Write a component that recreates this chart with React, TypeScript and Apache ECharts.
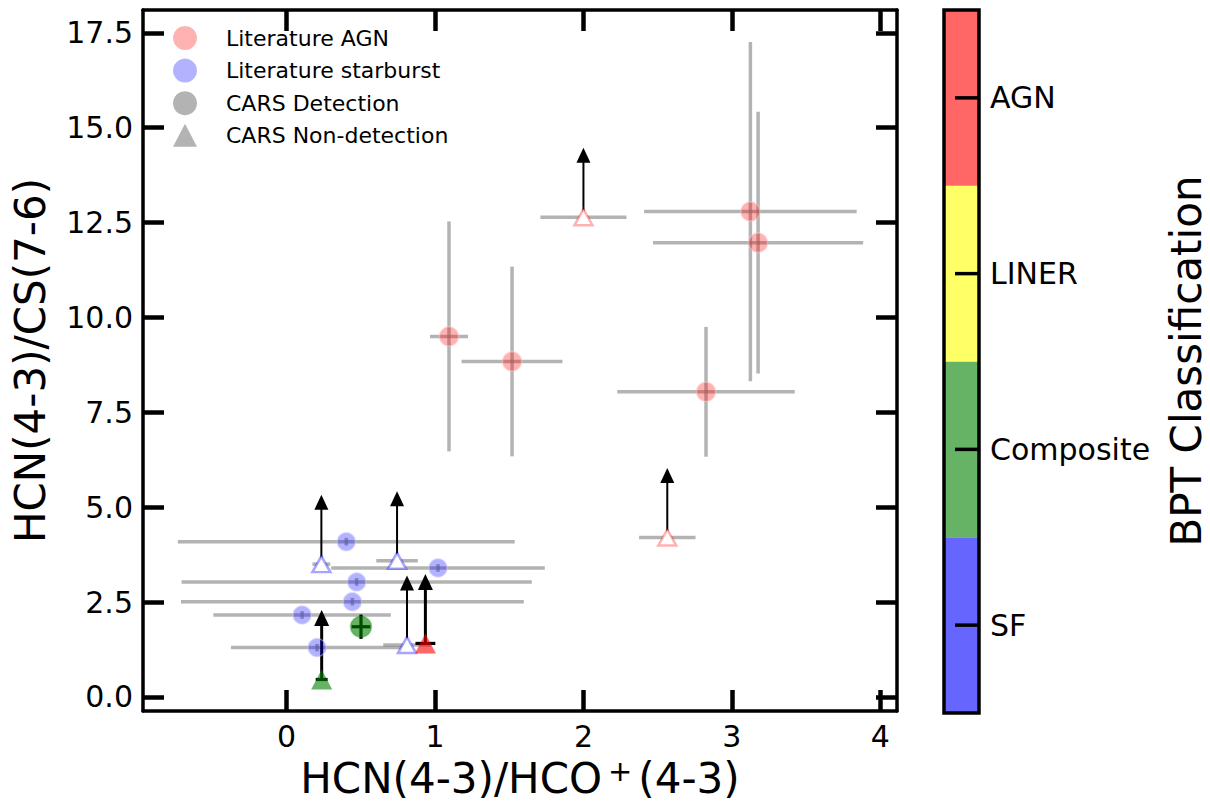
import React, { useEffect, useRef } from "react";
import * as echarts from "echarts";

// ---------- data ----------
// [x, y, xerr, yerr]
const LIT_AGN_DET = [
  [1.094, 9.5, 0.128, 3.03],
  [1.519, 8.84, 0.34, 2.5],
  [3.125, 12.79, 0.716, 4.47],
  [3.177, 11.97, 0.708, 3.45],
  [2.826, 8.04, 0.598, 1.71],
];
const LIT_AGN_NONDET = [
  [2.0, 12.64, 0.29, 0],
  [2.565, 4.2, 0.19, 0],
];
const LIT_SB_DET = [
  [0.402, 4.09, 1.135, 0.1],
  [1.02, 3.4, 0.72, 0.1],
  [0.472, 3.03, 1.18, 0.1],
  [0.443, 2.51, 1.155, 0.1],
  [0.104, 2.16, 0.598, 0.1],
  [0.205, 1.3, 0.58, 0.1],
];
const LIT_SB_NONDET = [
  [0.234, 3.5, 0.06, 0],
  [0.744, 3.59, 0.14, 0],
  [0.811, 1.37, 0.16, 0],
];
// [x, y, xerr, yerr, bptIndex]
const CARS_DET = [[0.501, 1.85, 0.063, 0.32, 1]];
const CARS_NONDET = [
  [0.236, 0.46, 0.04, 0, 1],
  [0.935, 1.41, 0.067, 0, 3],
];
const ARROW_LEN = 1.83;

const X_TICKS = [0, 1, 2, 3, 4];
const Y_TICKS = [0, 2.5, 5, 7.5, 10, 12.5, 15, 17.5];
const X_MIN = -0.968;
const X_MAX = 4.113;
const Y_MIN = -0.37;
const Y_MAX = 18.1;

const BPT_LABELS = ["SF", "Composite", "LINER", "AGN"];
const BPT_COLORS = ["rgb(102,102,255)", "rgb(102,179,102)", "rgb(255,255,102)", "rgb(255,102,102)"];
const BPT_MARK_COLORS = ["rgba(0,0,255,0.6)", "rgba(0,128,0,0.6)", "rgba(255,255,0,0.6)", "rgba(255,0,0,0.6)"];

const LEGEND_LABELS = ["Literature AGN", "Literature starburst", "CARS Detection", "CARS Non-detection"];
const LEGEND_COLORS = ["rgba(255,0,0,0.3)", "rgba(0,0,255,0.3)", "rgba(128,128,128,0.6)", "rgba(128,128,128,0.6)"];

const FONT = "DejaVu Sans";

function errRender(stroke: string, lw: number) {
  return (params: any, api: any) => {
    const x = api.value(0);
    const y = api.value(1);
    const xe = api.value(2);
    const ye = api.value(3);
    const children: any[] = [];
    if (xe > 0) {
      const a = api.coord([x - xe, y]);
      const b = api.coord([x + xe, y]);
      children.push({ type: "line", shape: { x1: a[0], y1: a[1], x2: b[0], y2: b[1] }, style: { stroke, lineWidth: lw } });
    }
    if (ye > 0) {
      const a = api.coord([x, y - ye]);
      const b = api.coord([x, y + ye]);
      children.push({ type: "line", shape: { x1: a[0], y1: a[1], x2: b[0], y2: b[1] }, style: { stroke, lineWidth: lw } });
    }
    return { type: "group", children };
  };
}

function arrowRender(lw: number, hw: number, hl: number) {
  return (params: any, api: any) => {
    const x = api.value(0);
    const y = api.value(1);
    const p0 = api.coord([x, y]);
    const p1 = api.coord([x, y + ARROW_LEN]);
    return {
      type: "group",
      children: [
        { type: "line", shape: { x1: p0[0], y1: p0[1], x2: p1[0], y2: p1[1] + hl - 1 }, style: { stroke: "#000", lineWidth: lw } },
        {
          type: "polygon",
          shape: { points: [[p1[0], p1[1]], [p1[0] - hw / 2, p1[1] + hl], [p1[0] + hw / 2, p1[1] + hl]] },
          style: { fill: "#000" },
        },
      ],
    };
  };
}

export default function App() {
  const ref = useRef<HTMLDivElement>(null);
  useEffect(() => {
    document.body.style.margin = "0";
    const chart = echarts.init(ref.current!, null, { renderer: "svg" });

    const axisCommon = {
      type: "value",
      axisLine: { show: true, onZero: false, lineStyle: { color: "#000", width: 3.5 } },
      splitLine: { show: false },
    };
    const tickStyle = { show: true, inside: true, length: 21, lineStyle: { color: "#000", width: 4.5 } };

    const legendGraphics: any[] = [];
    LEGEND_LABELS.forEach((lab, i) => {
      const cy = 38 + i * 32.6;
      if (i < 3) {
        legendGraphics.push({ type: "circle", shape: { cx: 185, cy, r: 12 }, style: { fill: LEGEND_COLORS[i] } });
      } else {
        legendGraphics.push({
          type: "polygon",
          shape: { points: [[185, cy - 12], [173, cy + 11], [197, cy + 11]] },
          style: { fill: LEGEND_COLORS[i] },
        });
      }
      legendGraphics.push({
        type: "text",
        x: 226,
        y: cy,
        style: { text: lab, fontSize: 22, fontFamily: FONT, fill: "#000", verticalAlign: "middle", align: "left" },
      });
    });

    const cbTop = 10;
    const cbBottom = 713;
    const cbLeft = 944;
    const cbRight = 979;
    const segH = (cbBottom - cbTop) / BPT_LABELS.length;
    const cbGraphics: any[] = [];
    BPT_LABELS.forEach((lab, i) => {
      const top = cbBottom - (i + 1) * segH;
      cbGraphics.push({ type: "rect", shape: { x: cbLeft, y: top, width: cbRight - cbLeft, height: segH }, style: { fill: BPT_COLORS[i] } });
    });
    cbGraphics.push({
      type: "rect",
      shape: { x: cbLeft, y: cbTop, width: cbRight - cbLeft, height: cbBottom - cbTop },
      style: { fill: "none", stroke: "#000", lineWidth: 3.5 },
    });
    BPT_LABELS.forEach((lab, i) => {
      const cy = cbBottom - (i + 0.5) * segH;
      cbGraphics.push({ type: "line", shape: { x1: 955, y1: cy, x2: cbRight, y2: cy }, style: { stroke: "#000", lineWidth: 3.5 } });
      cbGraphics.push({
        type: "text",
        x: 990,
        y: cy,
        style: { text: lab, fontSize: 30, fontFamily: FONT, fill: "#000", verticalAlign: "middle", align: "left" },
      });
    });
    cbGraphics.push({
      type: "text",
      x: 1186,
      y: 361,
      rotation: Math.PI / 2,
      style: { text: "BPT Classification", fontSize: 42, fontFamily: FONT, fill: "#000", verticalAlign: "middle", align: "center" },
    });

    const option: any = {
      animation: false,
      backgroundColor: "#fff",
      grid: { left: 143, right: 313, top: 10, bottom: 92, containLabel: false },
      xAxis: [
        {
          ...axisCommon,
          position: "bottom",
          min: X_MIN,
          max: X_MAX,
          axisTick: { ...tickStyle, customValues: X_TICKS },
          axisLabel: { show: true, customValues: X_TICKS, fontSize: 30, fontFamily: FONT, color: "#000", margin: 10 },
          name: "HCN(4-3)/HCO{sup|+}(4-3)",
          nameLocation: "middle",
          nameGap: 45,
          nameTextStyle: {
            fontSize: 42,
            fontFamily: FONT,
            color: "#000",
            verticalAlign: "top",
            rich: { sup: { fontSize: 29, fontFamily: FONT, color: "#000", verticalAlign: "top", padding: [0, 6, 15, 6] } },
          },
        },
        {
          ...axisCommon,
          position: "top",
          min: X_MIN,
          max: X_MAX,
          axisTick: { ...tickStyle, customValues: X_TICKS },
          axisLabel: { show: false },
        },
      ],
      yAxis: [
        {
          ...axisCommon,
          position: "left",
          min: Y_MIN,
          max: Y_MAX,
          axisTick: { ...tickStyle, customValues: Y_TICKS },
          axisLabel: {
            show: true,
            customValues: Y_TICKS,
            fontSize: 30,
            fontFamily: FONT,
            color: "#000",
            margin: 10,
            formatter: (v: number) => v.toFixed(1),
          },
          name: "HCN(4-3)/CS(7-6)",
          nameLocation: "middle",
          nameGap: 92,
          nameTextStyle: { fontSize: 42, fontFamily: FONT, color: "#000" },
        },
        {
          ...axisCommon,
          position: "right",
          min: Y_MIN,
          max: Y_MAX,
          axisTick: { ...tickStyle, customValues: Y_TICKS },
          axisLabel: { show: false },
        },
      ],
      series: [
        {
          type: "custom",
          name: "lit-err",
          renderItem: errRender("rgba(128,128,128,0.6)", 3.5),
          encode: { x: 0, y: 1 },
          data: [...LIT_AGN_DET, ...LIT_AGN_NONDET, ...LIT_SB_DET, ...LIT_SB_NONDET],
          silent: true,
        },
        {
          type: "custom",
          name: "cars-err",
          renderItem: errRender("#000", 3.2),
          encode: { x: 0, y: 1 },
          data: [...CARS_DET, ...CARS_NONDET],
          silent: true,
        },
        {
          type: "custom",
          name: "lit-arrows",
          renderItem: arrowRender(2, 14, 15),
          encode: { x: 0, y: 1 },
          data: [...LIT_AGN_NONDET, ...LIT_SB_NONDET],
          silent: true,
        },
        {
          type: "custom",
          name: "cars-arrows",
          renderItem: arrowRender(3, 15, 16),
          encode: { x: 0, y: 1 },
          data: CARS_NONDET,
          silent: true,
        },
        {
          type: "scatter",
          name: "Literature AGN",
          symbol: "circle",
          symbolSize: 19,
          data: LIT_AGN_DET.map((d) => [d[0], d[1]]),
          itemStyle: { color: "rgba(255,0,0,0.3)", borderColor: "rgba(255,200,200,0.5)", borderWidth: 1.5, opacity: 1 },
        },
        {
          type: "scatter",
          name: "Literature starburst",
          symbol: "circle",
          symbolSize: 18,
          data: LIT_SB_DET.map((d) => [d[0], d[1]]),
          itemStyle: { color: "rgba(0,0,255,0.3)", borderColor: "rgba(200,200,255,0.5)", borderWidth: 1.5, opacity: 1 },
        },
        {
          type: "scatter",
          name: "Literature AGN limits",
          symbol: "triangle",
          symbolSize: [18, 16],
          data: LIT_AGN_NONDET.map((d) => [d[0], d[1]]),
          itemStyle: { color: "#fff", borderColor: "rgba(255,0,0,0.3)", borderWidth: 2.5, opacity: 1 },
        },
        {
          type: "scatter",
          name: "Literature starburst limits",
          symbol: "triangle",
          symbolSize: [18, 16],
          data: LIT_SB_NONDET.map((d) => [d[0], d[1]]),
          itemStyle: { color: "#fff", borderColor: "rgba(0,0,255,0.35)", borderWidth: 2.5, opacity: 1 },
        },
        {
          type: "scatter",
          name: "CARS Detection",
          symbol: "circle",
          symbolSize: 21,
          data: CARS_DET.map((d) => ({ value: [d[0], d[1]], itemStyle: { color: BPT_MARK_COLORS[d[4]] } })),
          itemStyle: { opacity: 1, borderColor: "rgba(0,128,0,0.3)", borderWidth: 1.5 },
        },
        {
          type: "scatter",
          name: "CARS Non-detection",
          symbol: "triangle",
          symbolSize: [21, 20],
          data: CARS_NONDET.map((d) => ({ value: [d[0], d[1]], itemStyle: { color: BPT_MARK_COLORS[d[4]] } })),
          itemStyle: { opacity: 1 },
        },
      ],
      graphic: [...legendGraphics, ...cbGraphics],
    };
    chart.setOption(option);
    return () => chart.dispose();
  }, []);
  return <div ref={ref} style={{ width: 1210, height: 804 }} />;
}
